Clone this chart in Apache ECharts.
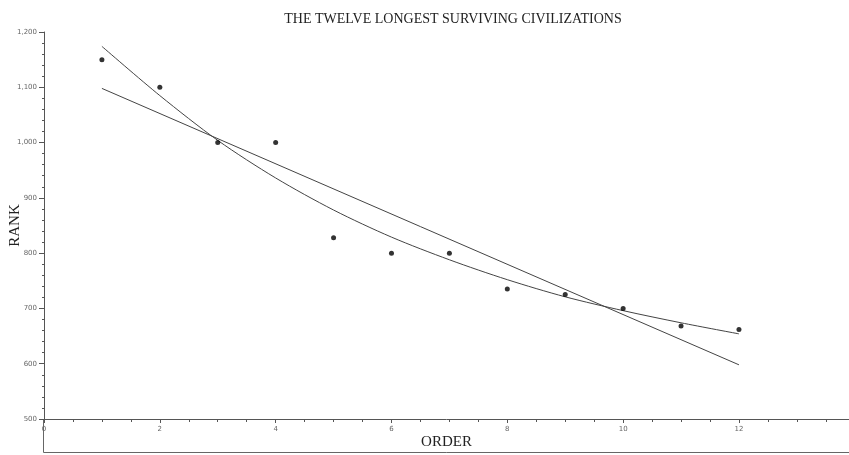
<!DOCTYPE html>
<html>
<head>
<meta charset="utf-8">
<script src="https://cdn.jsdelivr.net/npm/echarts@6/dist/echarts.min.js"></script>
<style>html,body{margin:0;padding:0;background:#fff}#c{width:849px;height:455px}</style>
</head>
<body>
<div id="c"></div>
<script>
// Observed data points
var order = [1, 2, 3, 4, 5, 6, 7, 8, 9, 10, 11, 12];
var rank = [1150, 1100, 1000, 1000, 828, 800, 800, 735, 725, 700, 668, 662];
// Curved trend line at each order
var curveRank = [1174, 1085, 1004, 936, 878, 829, 788, 752, 721, 696, 674, 654];
// Straight trend line end points
var lineOrder = [1, 12];
var lineRank = [1098, 598];
// Axis ticks
var yTicks = [500, 600, 700, 800, 900, 1000, 1100, 1200];
var xTicks = [0, 2, 4, 6, 8, 10, 12];

var axisColor = '#555';
var chart = echarts.init(document.getElementById('c'), null, {renderer: 'canvas'});
function zip(a, b) { return a.map(function (v, i) { return [v, b[i]]; }); }

chart.setOption({
  animation: false,
  backgroundColor: '#fff',
  title: {
    text: 'THE TWELVE LONGEST SURVIVING CIVILIZATIONS',
    left: 448, top: 7, textAlign: 'center',
    textStyle: {fontFamily: 'Liberation Serif', fontSize: 14, fontWeight: 'normal', color: '#222'}
  },
  grid: {left: 44, right: 0, top: 32, bottom: 36, containLabel: false, outerBoundsMode: 'none'},
  xAxis: {
    type: 'value', min: xTicks[0], max: 13.9, interval: xTicks[1] - xTicks[0],
    name: 'ORDER', nameLocation: 'middle', nameGap: 16, nameMoveOverlap: false,
    nameTextStyle: {fontFamily: 'Liberation Serif', fontSize: 15, color: '#222', verticalAlign: 'top'},
    axisLine: {show: true, onZero: false, lineStyle: {color: axisColor, width: 1}},
    axisTick: {show: true, inside: false, length: 4, lineStyle: {color: axisColor}},
    minorTick: {show: true, splitNumber: 4, length: 3, lineStyle: {color: axisColor}},
    axisLabel: {fontSize: 7, color: '#666', margin: 7, showMaxLabel: false, fontFamily: 'DejaVu Sans'},
    splitLine: {show: false}
  },
  yAxis: {
    type: 'value', min: yTicks[0], max: yTicks[yTicks.length - 1], interval: yTicks[1] - yTicks[0],
    name: 'RANK', nameLocation: 'middle', nameGap: 21, nameRotate: 90, nameMoveOverlap: false,
    nameTextStyle: {fontFamily: 'Liberation Serif', fontSize: 15, color: '#222'},
    axisLine: {show: true, onZero: false, lineStyle: {color: axisColor, width: 1}},
    axisTick: {show: true, inside: false, length: 5, lineStyle: {color: axisColor}},
    minorTick: {show: true, splitNumber: 5, length: 2, lineStyle: {color: axisColor}},
    axisLabel: {fontSize: 7, color: '#666', margin: 7, fontFamily: 'DejaVu Sans',
      formatter: function (v) { return v.toLocaleString('en-US'); }},
    splitLine: {show: false}
  },
  graphic: [{
    type: 'polyline', silent: true,
    shape: {points: [[43.5, 419], [43.5, 452.5], [849, 452.5]]},
    style: {stroke: '#666', lineWidth: 1, fill: null}
  }],
  series: [
    {
      type: 'line', data: zip(order, curveRank), smooth: 0.3, showSymbol: false, symbol: 'none',
      lineStyle: {color: '#444', width: 1}, z: 2
    },
    {
      type: 'line', data: zip(lineOrder, lineRank), showSymbol: false, symbol: 'none',
      lineStyle: {color: '#444', width: 1}, z: 2
    },
    {
      type: 'scatter', data: zip(order, rank), symbol: 'circle', symbolSize: 5,
      itemStyle: {color: '#000'}, z: 3
    }
  ]
});
</script>
</body>
</html>
